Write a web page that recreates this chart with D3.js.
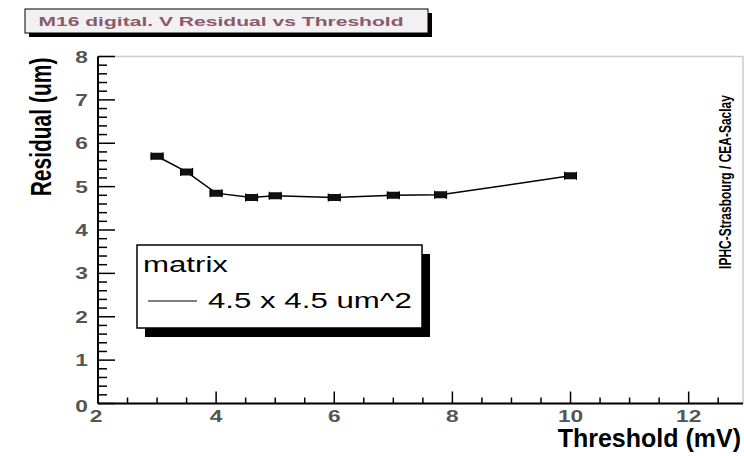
<!DOCTYPE html>
<html>
<head>
<meta charset="utf-8">
<script src="https://cdn.jsdelivr.net/npm/d3@7"></script>
<style>
  body { margin: 0; background: #fff; }
  svg { display: block; font-family: "Liberation Sans", Arial, sans-serif; }
</style>
</head>
<body>
<script>
// values
const thresholds = [3, 3.5, 4, 4.6, 5, 6, 7, 7.8, 10];
const residuals  = [5.70, 5.34, 4.85, 4.75, 4.79, 4.75, 4.80, 4.81, 5.25];
const xErrors    = [0.1, 0.1, 0.1, 0.1, 0.1, 0.1, 0.1, 0.1, 0.1];
const xTicks = [2, 4, 6, 8, 10, 12];
const yTicks = [0, 1, 2, 3, 4, 5, 6, 7, 8];
const seriesName = "4.5 x 4.5 um^2";
const legendTitle = "matrix";

const w = 744, h = 456;
const stretch = 1.42; // text in the picture is wider than it is tall

const svg = d3.select("body").append("svg")
  .attr("width", w).attr("height", h);

const x = d3.scaleLinear().domain([2, 12.92]).range([98, 743]);
const y = d3.scaleLinear().domain([0, 8]).range([403.5, 56.5]);

// helper for horizontally stretched text
function label(px, py, str, opts) {
  const sx = opts.sx || stretch;
  const rot = opts.rotate ? " rotate(" + opts.rotate + ")" : "";
  return svg.append("text")
    .attr("transform", "translate(" + px + "," + py + ") scale(" + sx + ",1)" + rot)
    .attr("text-anchor", opts.anchor || "start")
    .attr("font-size", opts.size)
    .attr("font-weight", opts.bold ? "bold" : "normal")
    .attr("fill", opts.color || "#000")
    .text(str);
}

// frame
svg.append("rect")
  .attr("x", x(2)).attr("y", y(8))
  .attr("width", x.range()[1] - x(2)).attr("height", y(0) - y(8))
  .attr("fill", "none").attr("stroke", "#cccccc").attr("stroke-width", 1.5);

// ticks
const xMinor = d3.range(2, 12.95, 0.5);
svg.selectAll("line.xt").data(xMinor).enter().append("line")
  .attr("x1", d => x(d)).attr("x2", d => x(d))
  .attr("y1", y(0)).attr("y2", d => y(0) - (d % 2 === 0 ? 12 : 6))
  .attr("stroke", "#000").attr("stroke-width", 1.5);

const yMinor = d3.range(0, 8.01, 0.2);
svg.selectAll("line.yt").data(yMinor).enter().append("line")
  .attr("y1", d => y(d)).attr("y2", d => y(d))
  .attr("x1", x(2)).attr("x2", (d, i) => x(2) + (i % 5 === 0 ? 17 : 9))
  .attr("stroke", "#000").attr("stroke-width", 1.5);

// axis lines
svg.append("line").attr("x1", x(2)).attr("x2", x.range()[1])
  .attr("y1", y(0)).attr("y2", y(0)).attr("stroke", "#000").attr("stroke-width", 2);
svg.append("line").attr("x1", x(2)).attr("x2", x(2))
  .attr("y1", y(0)).attr("y2", y(8)).attr("stroke", "#000").attr("stroke-width", 2);

// tick labels
xTicks.forEach(t => label(x(t) + (t === 2 ? -2 : 0), 422, String(t), {anchor: "middle", size: 16, bold: true, color: "#555"}));
yTicks.forEach(t => label(88, y(t) + (t === 0 ? 8 : 6), String(t), {anchor: "end", size: 16, bold: true, color: "#555"}));

// axis titles
label(741, 447, "Threshold (mV)", {anchor: "end", size: 25, bold: true, sx: 1});
label(51, 127, "Residual (um)", {anchor: "middle", size: 21, bold: true, rotate: -90});
label(731, 182, "IPHC-Strasbourg / CEA-Saclay", {anchor: "middle", size: 12, bold: true, rotate: -90});

// data line
const pts = thresholds.map((t, i) => [t, residuals[i], xErrors[i]]);
svg.append("path").datum(pts)
  .attr("d", d3.line().x(d => x(d[0])).y(d => y(d[1])))
  .attr("fill", "none").attr("stroke", "#000").attr("stroke-width", 1.5);

// error bars and markers
const m = svg.selectAll("g.pt").data(pts).enter().append("g");
m.append("line")
  .attr("x1", d => x(d[0] - d[2])).attr("x2", d => x(d[0] + d[2]))
  .attr("y1", d => y(d[1])).attr("y2", d => y(d[1]))
  .attr("stroke", "#000").attr("stroke-width", 2);
m.append("rect")
  .attr("x", d => x(d[0]) - 6.5).attr("y", d => y(d[1]) - 3.5)
  .attr("width", 13).attr("height", 7).attr("rx", 1.5)
  .attr("fill", "#111");
[-1, 1].forEach(s => {
  m.append("line")
    .attr("x1", d => x(d[0] + s * d[2])).attr("x2", d => x(d[0] + s * d[2]))
    .attr("y1", d => y(d[1]) - 4).attr("y2", d => y(d[1]) + 4)
    .attr("stroke", "#000").attr("stroke-width", 1.2);
});

// title box
svg.append("rect").attr("x", 29).attr("y", 13).attr("width", 403).attr("height", 24).attr("fill", "#000");
svg.append("rect").attr("x", 25).attr("y", 9).attr("width", 403).attr("height", 24)
  .attr("fill", "#f2f0f0").attr("stroke", "#000").attr("stroke-width", 1);
label(221, 25.5, "M16 digital. V Residual vs Threshold", {anchor: "middle", size: 13, bold: true, color: "#8b5a6a", sx: 1.62});

// legend
svg.append("rect").attr("x", 145).attr("y", 254).attr("width", 285).attr("height", 83).attr("fill", "#000");
svg.append("rect").attr("x", 137).attr("y", 245).attr("width", 285).attr("height", 83)
  .attr("fill", "#fff").attr("stroke", "#000").attr("stroke-width", 1.5);
label(143, 272, legendTitle, {size: 22, color: "#000"});
svg.append("line").attr("x1", 148).attr("x2", 197).attr("y1", 301).attr("y2", 301)
  .attr("stroke", "#000").attr("stroke-width", 1.2);
label(208, 308, seriesName, {size: 22, color: "#000"});
</script>
</body>
</html>
